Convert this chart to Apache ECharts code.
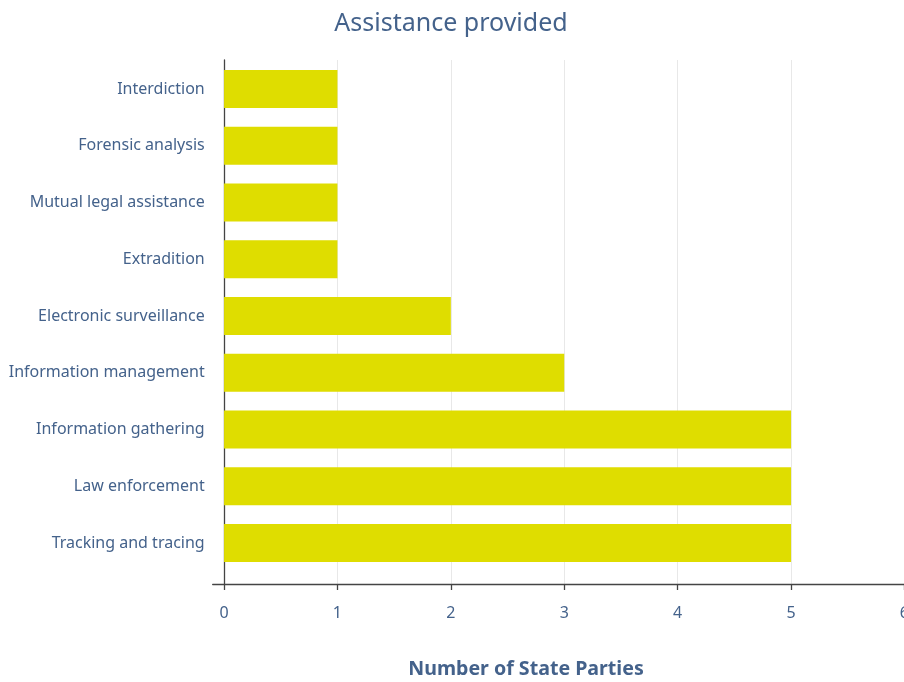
<!DOCTYPE html>
<html>
<head>
<meta charset="utf-8">
<script src="https://cdn.jsdelivr.net/npm/echarts@6/dist/echarts.min.js"></script>
<style>html,body{margin:0;padding:0;background:#fff;overflow:hidden}#c{width:904px;height:682px}</style>
</head>
<body>
<div id="c"></div>
<script>
const categories = ["Tracking and tracing","Law enforcement","Information gathering","Information management","Electronic surveillance","Extradition","Mutual legal assistance","Forensic analysis","Interdiction"];
const values = [5,5,5,3,2,1,1,1,1];
const xTicks = [0,1,2,3,4,5,6];

const txt = '#44628b';
const font = '"Noto Sans", "Open Sans", sans-serif';
const chart = echarts.init(document.getElementById('c'));
const xMin = -0.1, xMax = 6.1;
const gLeft = 212.7, gWidth = (xMax - xMin) * 113.4;
chart.setOption({
  animation: false,
  title: [
    {text: 'Assistance provided', left: 446, top: 6, textAlign: 'center',
     textStyle: {color: txt, fontSize: 25, fontWeight: 'normal', fontFamily: font}},
    {text: 'Number of State Parties', left: 521, top: 654, textAlign: 'center',
     textStyle: {color: txt, fontSize: 19.6, fontWeight: 'bold', fontFamily: font}}
  ],
  grid: [
    {left: gLeft, width: gWidth, top: 60.6, height: 510.75, containLabel: false, outerBoundsMode: 'none'},
    {left: gLeft, width: gWidth, top: 60, height: 524, containLabel: false, outerBoundsMode: 'none'}
  ],
  xAxis: [
    {gridIndex: 0, type: 'value', min: xMin, max: xMax, show: false},
    {gridIndex: 1, type: 'value', min: xMin, max: xMax,
     axisLine: {show: true, onZero: false, lineStyle: {color: '#444', width: 1.3}},
     axisTick: {show: true, customValues: xTicks, length: 6, lineStyle: {color: '#444', width: 1.3}},
     axisLabel: {customValues: xTicks, margin: 21, color: txt, fontSize: 16, fontFamily: font},
     splitLine: {show: true, lineStyle: {color: '#e8e8e8', width: 1}}}
  ],
  yAxis: [
    {gridIndex: 0, type: 'category', data: categories,
     axisLine: {show: false, onZero: true}, axisTick: {show: false},
     axisLabel: {color: txt, fontSize: 16, fontFamily: font, margin: 8}},
    {gridIndex: 1, type: 'value', min: 0, max: 1,
     axisLine: {show: true, onZero: true, lineStyle: {color: '#444', width: 1.3}},
     axisTick: {show: false}, axisLabel: {show: false}, splitLine: {show: false}}
  ],
  series: [{
    type: 'bar', xAxisIndex: 0, yAxisIndex: 0, data: values,
    barWidth: 38, itemStyle: {color: '#dfdd00'}, z: 1
  }]
});
</script>
</body>
</html>
